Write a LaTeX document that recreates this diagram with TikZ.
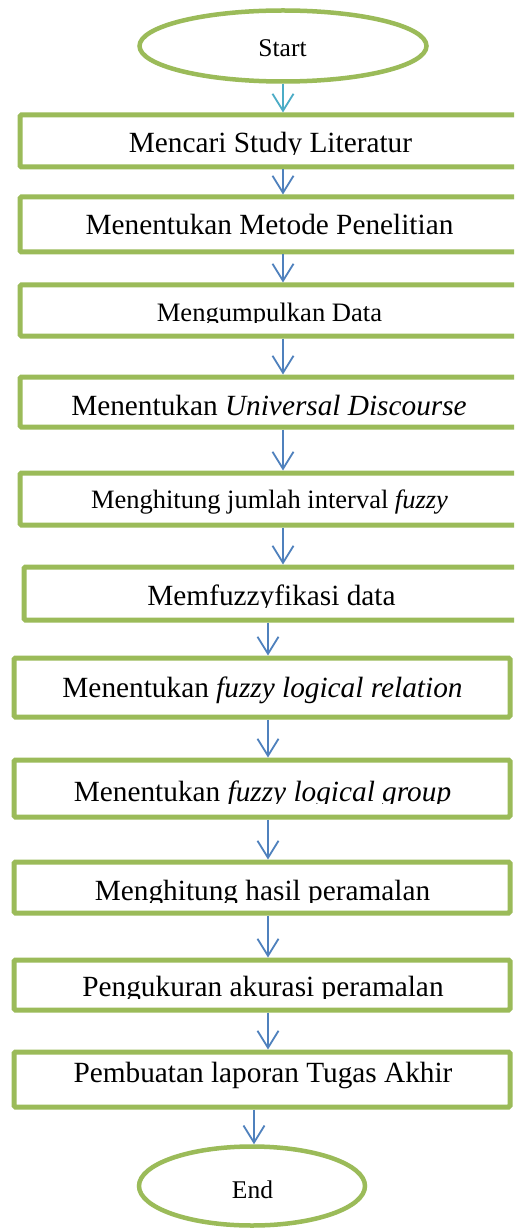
\documentclass[tikz,border=0pt]{standalone}
\usepackage{fontspec}
\setmainfont{Liberation Serif}
\usetikzlibrary{arrows.meta,shapes.geometric}
\definecolor{ogreen}{HTML}{9BBB59}
\definecolor{oblue}{HTML}{4F81BD}
\definecolor{ocyan}{HTML}{4BACC6}
\tikzset{
  stepbox/.style={draw=ogreen, line width=5pt, rounded corners=1.5pt, fill=white, inner sep=0pt},
  term/.style={ellipse, draw=ogreen, line width=4.5pt, fill=white, inner sep=0pt},
  lbl/.style={anchor=base, inner sep=0pt, font=\fontsize{29.3}{35}\selectfont},
  lbls/.style={anchor=base, inner sep=0pt, font=\fontsize{26.5}{32}\selectfont},
  lblt/.style={anchor=base, inner sep=0pt, font=\fontsize{25.5}{30}\selectfont},
  arr/.style={draw=oblue, line width=1.8pt, -{Straight Barb[length=17pt,width=21pt,line width=1.8pt]}},
  arrc/.style={arr, draw=ocyan}
}
\begin{document}
\begin{tikzpicture}[x=1pt,y=-1pt]
\clip (0,0) rectangle (514,1230);
\fill[white] (0,0) rectangle (514,1230);
% columns for connectors
\coordinate (c1) at (283,0);
\coordinate (c2) at (268,0);
\coordinate (c3) at (254,0);
% terminals
\node[term, minimum width=287pt, minimum height=71pt] (start) at (283,46) {};
\node[lblt] (tstart) at (282.5,57) {Start};
\node[term, minimum width=226pt, minimum height=79pt] (end) at (252,1186) {};
\node[lblt] (tend) at (252.5,1198) {End};
% boxes
\node[stepbox, minimum width=526pt, minimum height=52pt] (b1) at (283,141) {};
\node[stepbox, minimum width=526pt, minimum height=55pt] (b2) at (283,224.5) {};
\node[stepbox, minimum width=526pt, minimum height=51pt] (b3) at (283,310.5) {};
\node[stepbox, minimum width=526pt, minimum height=50pt] (b4) at (283,402) {};
\node[stepbox, minimum width=526pt, minimum height=52pt] (b5) at (283,499) {};
\node[stepbox, minimum width=522pt, minimum height=53pt] (b6) at (285,593.5) {};
\node[stepbox, minimum width=496pt, minimum height=59pt] (b7) at (262,687.5) {};
\node[stepbox, minimum width=496pt, minimum height=57pt] (b8) at (262,788.5) {};
\node[stepbox, minimum width=496pt, minimum height=51pt] (b9) at (262,887.5) {};
\node[stepbox, minimum width=496pt, minimum height=50pt] (b10) at (262,985) {};
\node[stepbox, minimum width=496pt, minimum height=55pt] (b11) at (262,1079.5) {};
% labels (some cut off at the bottom, as in the reference)
\begin{scope}\clip (0,100) rectangle (514,155);
\node[lbl] (t1) at (270.5,153) {Mencari Study Literatur};
\end{scope}
\node[lbl] (t2) at (269.5,235) {Menentukan Metode Penelitian};
\begin{scope}\clip (0,280) rectangle (514,322.5);
\node[lbls, font=\fontsize{26.6}{32}\selectfont] (t3) at (269.5,321) {Mengumpulkan Data};
\end{scope}
\node[lbl] (t4) at (269,415) {Menentukan \textit{Universal Discourse}};
\node[lbls] (t5) at (269.5,508) {Menghitung jumlah interval \textit{fuzzy}};
\begin{scope}\clip (0,560) rectangle (514,607);
\node[lbl] (t6) at (271.5,605) {Memfuzzyfikasi data};
\end{scope}
\node[lbl] (t7) at (262.5,697) {Menentukan \textit{fuzzy logical relation}};
\begin{scope}\clip (0,750) rectangle (514,803);
\node[lbl] (t8) at (262.5,801) {Menentukan \textit{fuzzy logical group}};
\end{scope}
\begin{scope}\clip (0,850) rectangle (514,902);
\node[lbl] (t9) at (262.5,900) {Menghitung hasil peramalan};
\end{scope}
\begin{scope}\clip (0,950) rectangle (514,998);
\node[lbl] (t10) at (263,996) {Pengukuran akurasi peramalan};
\end{scope}
\node[lbl] (t11) at (263,1082) {Pembuatan laporan Tugas Akhir};
% connectors
\draw[arrc] (start.south -| c1) -- (b1.north -| c1);
\draw[arr] (b1.south -| c1) -- (b2.north -| c1);
\draw[arr] (b2.south -| c1) -- (b3.north -| c1);
\draw[arr] (b3.south -| c1) -- (b4.north -| c1);
\draw[arr] (b4.south -| c1) -- (b5.north -| c1);
\draw[arr] (b5.south -| c1) -- (b6.north -| c1);
\draw[arr] (b6.south -| c2) -- (b7.north -| c2);
\draw[arr] (b7.south -| c2) -- (b8.north -| c2);
\draw[arr] (b8.south -| c2) -- (b9.north -| c2);
\draw[arr] (b9.south -| c2) -- (b10.north -| c2);
\draw[arr] (b10.south -| c2) -- (b11.north -| c2);
\draw[arr] (b11.south -| c3) -- (end.north -| c3);
\end{tikzpicture}
\end{document}
